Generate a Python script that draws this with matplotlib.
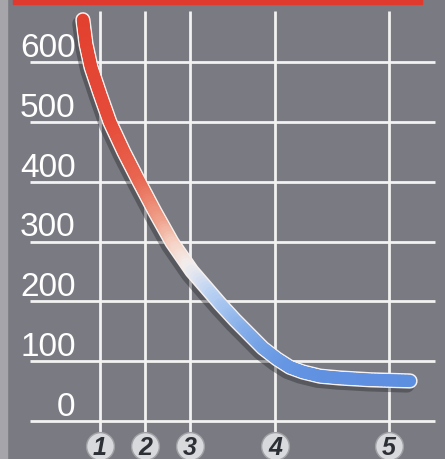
import matplotlib
matplotlib.use("Agg")
import matplotlib.pyplot as plt
import matplotlib.transforms as mtransforms
import numpy as np
from matplotlib.collections import LineCollection
from matplotlib.colors import LinearSegmentedColormap
from matplotlib.patches import Rectangle

# values
curve_x = [0.62, 0.69, 0.80, 1.00, 1.22, 1.53, 1.87, 2.22, 2.60, 3.04, 3.67,
           4.00, 4.33, 4.62, 4.93, 5.22, 5.51, 5.89, 6.33, 7.00, 7.89]
curve_y = [671, 630, 592, 547, 500, 450, 400, 350, 299, 251, 196,
           169, 144, 122, 104, 90, 82, 75, 72, 69, 67]

tick_pos = [1, 2, 3, 4.89, 7.42]
tick_labels = ["1", "2", "3", "4", "5"]
y_ticks = [0, 100, 200, 300, 400, 500, 600]

bg = "#7a7a82"
grid_c = "#f2f2f2"
fam = ["Liberation Sans", "DejaVu Sans"]

fig = plt.figure(figsize=(4.45, 4.6), dpi=100, facecolor=bg)
ax = fig.add_axes([0, 0, 1, 1])
ax.set_xlim(-1.222, 8.667)
ax.set_ylim(-63.5, 705.7)
ax.axis("off")

# light strip on the left edge and red rule on top
fig.add_artist(Rectangle((0, 0), 7 / 445, 1, transform=fig.transFigure,
                         color="#a6a6aa", zorder=0))
fig.add_artist(Rectangle((13 / 445, 1 - 5 / 460), 409 / 445, 5 / 460,
                         transform=fig.transFigure, color="#e03a2e", zorder=0))

# grid
ax.hlines(y_ticks, -0.556, 8.444, color=grid_c, lw=2, zorder=1)
ax.vlines(tick_pos, -35, 686, color=grid_c, lw=2, zorder=1)

# y labels sit above their line
for v in y_ticks:
    ax.annotate(str(v), xy=(0.46, v), xytext=(0, 4.5), textcoords="offset points",
                ha="right", va="baseline", color="white", fontsize=24,
                family=fam, zorder=2)

# curve: shadow, white rim, gradient body
px = np.array(curve_x)
py = np.array(curve_y)
shadow_tr = mtransforms.offset_copy(ax.transData, fig=fig, x=-3, y=-4, units="dots")
ax.plot(px, py, color="#25252b", alpha=0.4, lw=11, solid_capstyle="round",
        solid_joinstyle="round", transform=shadow_tr, zorder=2)
ax.plot(px, py, color="#f6f0ee", lw=11, solid_capstyle="round",
        solid_joinstyle="round", zorder=3)

n = 12
xs = np.concatenate([np.linspace(px[i], px[i + 1], n, endpoint=False)
                     for i in range(len(px) - 1)] + [px[-1:]])
ys = np.concatenate([np.linspace(py[i], py[i + 1], n, endpoint=False)
                     for i in range(len(py) - 1)] + [py[-1:]])
pts = np.column_stack([xs, ys]).reshape(-1, 1, 2)
segs = np.concatenate([pts[:-1], pts[1:]], axis=1)

norm = plt.Normalize(60, 680)
stops = [(60, "#5b8de0"), (100, "#6a9ae4"), (150, "#86afea"), (210, "#bcd3f3"),
         (255, "#f3eeee"), (290, "#f6d2c4"), (330, "#efa08a"), (400, "#e8654f"),
         (500, "#e54a38"), (680, "#e3402f")]
cmap = LinearSegmentedColormap.from_list("rb", [(norm(v), c) for v, c in stops])

lc = LineCollection(segs, cmap=cmap, norm=norm, linewidths=8.8,
                    capstyle="round", joinstyle="round", zorder=4)
lc.set_array((ys[:-1] + ys[1:]) / 2)
ax.add_collection(lc)

# x tick badges
ax.scatter(tick_pos, [-42] * len(tick_pos), s=400, c="#d8d9dc",
           edgecolors="#a0a0a6", linewidths=1, zorder=5, clip_on=False)
for x, lab in zip(tick_pos, tick_labels):
    ax.text(x, -43, lab, ha="center", va="center", fontsize=18,
            fontweight="bold", fontstyle="italic", color="#2c2f36",
            family=fam, zorder=6)

fig.savefig("out.png", dpi=100)
